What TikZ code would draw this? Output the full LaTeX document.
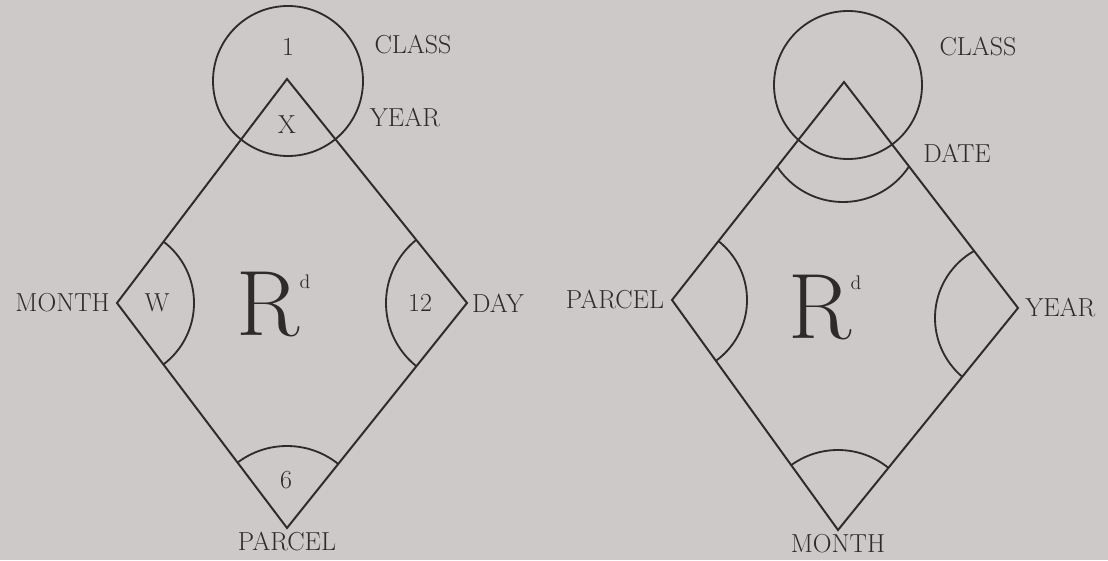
\documentclass[tikz,border=0pt]{standalone}
\usepackage{xcolor}
\usepackage{tikz}
\usetikzlibrary{positioning}
\definecolor{paper}{HTML}{CDC9C8}
\definecolor{ink}{HTML}{2F2B2B}

\begin{document}
\begin{tikzpicture}[
      x=0.025cm, y=0.025cm,
      font=\fontsize{18.5}{21}\selectfont, text=ink,
      rel/.style={draw=ink, line width=1.4pt, line join=miter},
      corner/.style={draw=ink, line width=1.3pt},
      lbl/.style={inner sep=0pt},
      bigr/.style={inner sep=0pt, font=\fontsize{66}{66}\selectfont},
      supd/.style={inner sep=0pt, font=\fontsize{14}{14}\selectfont}]
    \fill[paper] (0,0) rectangle (1108,560);
    \useasboundingbox (0,0) rectangle (1108,560);
    % left relation
    \coordinate (t1) at (287,481); \coordinate (l1) at (117,257);
    \coordinate (r1) at (467,257); \coordinate (b1) at (287,32);
    \coordinate (c1) at (288,479);
    \draw[rel] (t1) -- (l1) -- (b1) -- (r1) -- cycle;
    \begin{scope}
      \clip (t1) -- (l1) -- (b1) -- (r1) -- cycle;
      \draw[corner] (l1) circle (77);
      \draw[corner] (r1) circle (81);
      \draw[corner] (b1) circle (82);
    \end{scope}
    \draw[corner] (c1) circle (75);
    \node[lbl] (one) at (288,513) {1};
    \node[lbl] (x) at (287,435) {X};
    \node[lbl] (class1) at (413,515) {CLASS};
    \node[lbl] (year1) at (405,442) {YEAR};
    \node[lbl, left=5pt of l1] (month1) {MONTH};
    \node[lbl] (w) at (157,257) {W};
    \node[lbl] (twelve) at (420,257) {12};
    \node[lbl, right=3.5pt of r1] (day) {DAY};
    \node[lbl] (six) at (286,80) {6};
    \node[lbl, below=3pt of b1] (parcel1) {PARCEL};
    \node[bigr] (rel1) at (268,255) {R};
    \node[supd] (d1) at (305,278) {d};
    % right relation
    \coordinate (t2) at (844,478); \coordinate (l2) at (672,260);
    \coordinate (r2) at (1018,252); \coordinate (b2) at (838,30);
    \coordinate (c2) at (848,475); \coordinate (dt) at (843,437);
    \coordinate (yr) at (1012,242);
    \draw[rel] (t2) -- (l2) -- (b2) -- (r2) -- cycle;
    \begin{scope}
      \clip (t2) -- (l2) -- (b2) -- (r2) -- cycle;
      \draw[corner] (dt) circle (79);
      \draw[corner] (l2) circle (75);
      \draw[corner] (yr) circle (77);
      \draw[corner] (b2) circle (80);
    \end{scope}
    \draw[corner] (c2) circle (74);
    \node[lbl] (class2) at (978,513) {CLASS};
    \node[lbl] (date) at (957,407) {DATE};
    \node[lbl, left=5.5pt of l2] (parcel2) {PARCEL};
    \node[lbl, right=5pt of r2] (year2) {YEAR};
    \node[lbl, below=3pt of b2] (month2) {MONTH};
    \node[bigr] (rel2) at (820,252) {R};
    \node[supd] (d2) at (856,277) {d};
  \end{tikzpicture}
\end{document}
